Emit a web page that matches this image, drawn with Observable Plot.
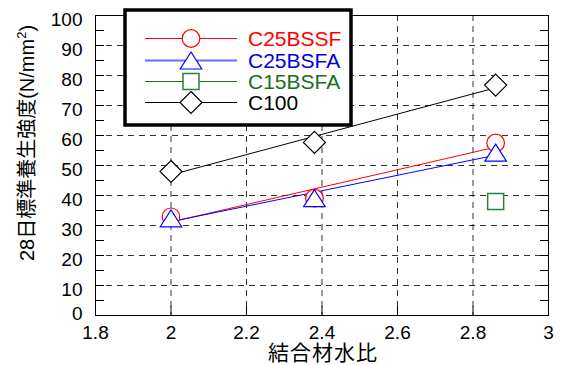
<!DOCTYPE html>
<html><head><meta charset="utf-8">
<script src="https://cdn.jsdelivr.net/npm/d3@7"></script>
<script src="https://cdn.jsdelivr.net/npm/@observablehq/plot@0.6"></script>
<style>
html,body{margin:0;padding:0;background:#fff;}
#chart{position:relative;width:564px;height:365px;}
</style></head><body><div id="chart"></div>
<script>
// ---- data ----
const seriesNames = ["C25BSSF", "C25BSFA", "C15BSFA", "C100"];
const ratioC25BSSF = [2.0, 2.38, 2.86];
const strengthC25BSSF = [32.9, 39.1, 57.5];
const ratioC25BSFA = [2.0, 2.38, 2.86];
const strengthC25BSFA = [32.4, 39.1, 54.3];
const ratioC15BSFA = [2.86];
const strengthC15BSFA = [38.0];
const ratioC100 = [2.0, 2.38, 2.86];
const strengthC100 = [48.0, 57.7, 76.8];
const xTicks = [1.8, 2.0, 2.2, 2.4, 2.6, 2.8, 3.0];
const yTicks = [0, 10, 20, 30, 40, 50, 60, 70, 80, 90, 100];
const yMinorTicks = [0, 5, 10, 15, 20, 25, 30, 35, 40, 45, 50, 55, 60, 65, 70, 75, 80, 85, 90, 95, 100];
const xTitle = "結合材水比";
const yTitleMain = "28日標準養生強度(N/mm";
const yTitleSup = "2";
const yTitleEnd = ")";

// ---- styles ----
const FONT = "'Liberation Sans', 'Noto Sans CJK JP', sans-serif";
const lineColors = ["#ff0000", "#0000ff", "#1e6e1e", "#000000"];
const markColors = ["#ff0000", "#0000ff", "#2a7f3a", "#000000"];
const markWidths = [1.2, 1.2, 1.5, 1.2];
const textColors = ["#ff0000", "#0000e0", "#1a6e1a", "#000000"];

// bbox-centred symbols (r = sqrt(size/PI))
const symCircle = {draw(c, size){const r=Math.sqrt(size/Math.PI); c.moveTo(r,0); c.arc(0,0,r,0,2*Math.PI);}};
const symTriangle = {draw(c, size){const r=Math.sqrt(size/Math.PI); const h=1.06*r, w=1.35*r; c.moveTo(0,-h); c.lineTo(w,h); c.lineTo(-w,h); c.closePath();}};
const symSquare = {draw(c, size){const r=Math.sqrt(size/Math.PI); c.moveTo(r,r); c.lineTo(r,-r); c.lineTo(-r,-r); c.lineTo(-r,r); c.closePath();}};
const symDiamond = {draw(c, size){const r=Math.sqrt(size/Math.PI); const d=1.1*r; c.moveTo(0,-d); c.lineTo(d,0); c.lineTo(0,d); c.lineTo(-d,0); c.closePath();}};
const symbols = [symCircle, symTriangle, symSquare, symDiamond];
const radii = [8.8, 8, 8, 10];

const toRows = (xs, ys, name) => xs.map((x, i) => ({series: name, ratio: x, strength: ys[i]}));
const sets = [
  toRows(ratioC25BSSF, strengthC25BSSF, seriesNames[0]),
  toRows(ratioC25BSFA, strengthC25BSFA, seriesNames[1]),
  toRows(ratioC15BSFA, strengthC15BSFA, seriesNames[2]),
  toRows(ratioC100, strengthC100, seriesNames[3])
];

const marks = [
  Plot.gridY({ticks: yTicks.slice(1, -1), stroke: "#000", strokeOpacity: 0.8, strokeDasharray: "6,5"}),
  Plot.gridX({ticks: xTicks.slice(1, -1), stroke: "#000", strokeOpacity: 0.8, strokeDasharray: "6,5"}),
  Plot.frame({stroke: "#000"}),
  // inward ticks
  Plot.axisY({ticks: yMinorTicks, anchor: "left", tickSize: 9, dx: 9, tickFormat: () => "", label: null}),
  Plot.axisY({ticks: yMinorTicks, anchor: "right", tickSize: 9, dx: -9, tickFormat: () => "", label: null}),
  Plot.axisX({ticks: xTicks, anchor: "bottom", tickSize: 9, dy: -9, tickFormat: () => "", label: null}),
  // tick labels
  Plot.axisY({ticks: yTicks.slice(1), anchor: "left", tickSize: 0, tickPadding: 13, dy: 4, fontSize: 19, tickFormat: d => String(d), label: null}),
  Plot.axisY({ticks: [yTicks[0]], anchor: "left", tickSize: 0, tickPadding: 13, dy: -2, fontSize: 19, tickFormat: d => String(d), label: null}),
  Plot.axisX({ticks: xTicks, anchor: "bottom", tickSize: 0, tickPadding: 10, fontSize: 19, tickFormat: d => String(d), label: null})
];
// regression lines for series with several points
sets.forEach((rows, i) => {
  if (rows.length > 1) marks.push(Plot.linearRegressionY(rows, {x: "ratio", y: "strength", stroke: lineColors[i], strokeWidth: 1, ci: 0}));
});
sets.forEach((rows, i) => {
  marks.push(Plot.dot(rows, {x: "ratio", y: "strength", symbol: symbols[i], r: radii[i], stroke: markColors[i], fill: "white", strokeWidth: markWidths[i]}));
});

const svg = Plot.plot({
  width: 564, height: 365,
  marginLeft: 95, marginRight: 16, marginTop: 15, marginBottom: 50,
  x: {domain: [1.8, 3]},
  y: {domain: [0, 100]},
  style: {fontFamily: FONT, fontSize: "19px", color: "#000", background: "#fff", overflow: "visible"},
  marks
});
document.getElementById("chart").appendChild(svg);

const s = d3.select(svg);
// axis titles
s.append("text").attr("x", 323).attr("y", 353).attr("dy", "0.35em").attr("text-anchor", "middle")
  .attr("font-size", 21).attr("letter-spacing", 1).attr("fill", "#000").text(xTitle);
const yt = s.append("text").attr("transform", "translate(27,143) rotate(-90)").attr("text-anchor", "middle")
  .attr("dy", "0.35em").attr("font-size", 20).attr("fill", "#000");
yt.append("tspan").text(yTitleMain);
yt.append("tspan").attr("dy", -8).attr("font-size", 13).text(yTitleSup);
yt.append("tspan").attr("dy", 8).text(yTitleEnd);

// legend
const lg = s.append("g");
lg.append("rect").attr("x", 125).attr("y", 10).attr("width", 226).attr("height", 115)
  .attr("fill", "#fff").attr("stroke", "#000").attr("stroke-width", 3.5);
const rowY = [38, 60, 81, 102];
const legendLineColors = ["#ff0000", "#6a6aff", "#1e6e1e", "#000000"];
const legendLineWidths = [1, 2.2, 1, 1];
seriesNames.forEach((name, i) => {
  const y = rowY[i];
  lg.append("line").attr("x1", 145).attr("x2", 237).attr("y1", y + 0.5).attr("y2", y + 0.5)
    .attr("stroke", legendLineColors[i]).attr("stroke-width", legendLineWidths[i]);
  lg.append("path").attr("transform", `translate(191,${y + 0.5})`)
    .attr("d", d3.symbol(symbols[i], Math.PI * radii[i] * radii[i])())
    .attr("fill", "#fff").attr("stroke", markColors[i]).attr("stroke-width", markWidths[i]);
  lg.append("text").attr("x", 248).attr("y", y).attr("dy", "0.36em").attr("font-size", 21)
    .attr("text-anchor", "start").attr("fill", textColors[i]).text(name);
});
</script></body></html>
